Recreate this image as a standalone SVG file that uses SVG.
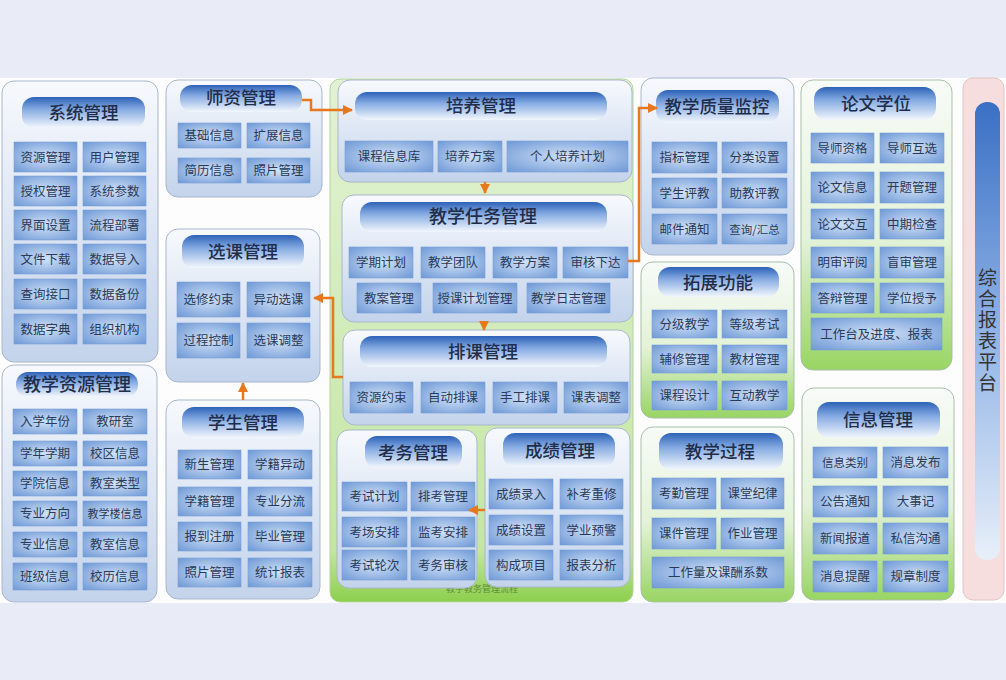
<svg xmlns="http://www.w3.org/2000/svg" width="1006" height="680" viewBox="0 0 1006 680">
<defs>
<linearGradient id="gPanel" x1="0" y1="0" x2="0" y2="1"><stop offset="0" stop-color="#f7f9fd"/><stop offset="1" stop-color="#c3d3eb"/></linearGradient>
<linearGradient id="gPanelG" x1="0" y1="0" x2="0" y2="1"><stop offset="0" stop-color="#f8fbf8"/><stop offset="0.55" stop-color="#e3f2d8"/><stop offset="1" stop-color="#98d562"/></linearGradient>
<linearGradient id="gMid" x1="0" y1="0" x2="0" y2="1"><stop offset="0" stop-color="#e2f1d4"/><stop offset="0.9" stop-color="#c4e6a2"/><stop offset="1" stop-color="#8ccf4c"/></linearGradient>
<linearGradient id="gHead" x1="0" y1="0" x2="0" y2="1"><stop offset="0" stop-color="#2d62b8"/><stop offset="0.4" stop-color="#86abe2"/><stop offset="1" stop-color="#f3f7fd"/></linearGradient>
<radialGradient id="gItem" cx="0.5" cy="0.5" r="0.7"><stop offset="0" stop-color="#d2e2f7"/><stop offset="1" stop-color="#6d98d6"/></radialGradient>
<linearGradient id="gBar" x1="0" y1="0" x2="0" y2="1"><stop offset="0" stop-color="#3a6fc4"/><stop offset="0.5" stop-color="#8fb3e6"/><stop offset="1" stop-color="#e8eff9"/></linearGradient>
<marker id="arr" markerUnits="userSpaceOnUse" markerWidth="10" markerHeight="10" refX="9" refY="5" orient="auto"><path d="M0,0 L10,5 L0,10 z" fill="#e8781e"/></marker>
</defs>
<style>
.p{fill:url(#gPanel);stroke:#a9b7cc;stroke-width:1}
.pg{fill:url(#gPanelG);stroke:#a9bfa9;stroke-width:1}
.h{fill:url(#gHead)}
.i{fill:url(#gItem);stroke:#7a9fd6;stroke-width:0.6}
.tt{font-family:"Noto Sans CJK SC","Noto Sans",sans-serif;font-size:17.5px;fill:#1f2d4a;text-anchor:middle;font-weight:500}
.t{font-family:"Noto Sans CJK SC","Noto Sans",sans-serif;font-size:12.5px;fill:#2a3a58;text-anchor:middle}
.c{fill:none;stroke:#e8781e;stroke-width:2.5}
</style>
<rect width="1006" height="680" fill="#e9ebf7"/>
<rect x="0" y="78" width="1006" height="525" fill="#fdfdfe"/>

<g id="xitong">
<rect class="p" x="2" y="81" width="156" height="281" rx="12"/>
<rect class="h" x="22" y="97" width="123" height="31" rx="12"/>
<text class="tt" x="83.5" y="119">系统管理</text>
<rect class="i" x="14" y="142" width="63" height="30"/><text class="t" x="45.5" y="161.5">资源管理</text>
<rect class="i" x="83" y="142" width="63" height="30"/><text class="t" x="114.5" y="161.5">用户管理</text>
<rect class="i" x="14" y="176" width="63" height="30"/><text class="t" x="45.5" y="195.5">授权管理</text>
<rect class="i" x="83" y="176" width="63" height="30"/><text class="t" x="114.5" y="195.5">系统参数</text>
<rect class="i" x="14" y="210" width="63" height="30"/><text class="t" x="45.5" y="229.5">界面设置</text>
<rect class="i" x="83" y="210" width="63" height="30"/><text class="t" x="114.5" y="229.5">流程部署</text>
<rect class="i" x="14" y="244" width="63" height="30"/><text class="t" x="45.5" y="263.5">文件下载</text>
<rect class="i" x="83" y="244" width="63" height="30"/><text class="t" x="114.5" y="263.5">数据导入</text>
<rect class="i" x="14" y="279" width="63" height="30"/><text class="t" x="45.5" y="298.5">查询接口</text>
<rect class="i" x="83" y="279" width="63" height="30"/><text class="t" x="114.5" y="298.5">数据备份</text>
<rect class="i" x="14" y="314" width="63" height="30"/><text class="t" x="45.5" y="333.5">数据字典</text>
<rect class="i" x="83" y="314" width="63" height="30"/><text class="t" x="114.5" y="333.5">组织机构</text>
</g>

<g id="shizi">
<rect class="p" x="166" y="80" width="156" height="117" rx="12"/>
<rect class="h" x="180" y="85" width="122" height="27" rx="12"/>
<text class="tt" x="241" y="104">师资管理</text>
<rect class="i" x="178" y="123" width="63" height="25"/><text class="t" x="209.5" y="140">基础信息</text>
<rect class="i" x="247" y="123" width="63" height="25"/><text class="t" x="278.5" y="140">扩展信息</text>
<rect class="i" x="178" y="158" width="63" height="25"/><text class="t" x="209.5" y="175">简历信息</text>
<rect class="i" x="247" y="158" width="63" height="25"/><text class="t" x="278.5" y="175">照片管理</text>
</g>

<g id="xuanke">
<rect class="p" x="166" y="229" width="154" height="153" rx="12"/>
<rect class="h" x="182" y="235" width="122" height="33" rx="12"/>
<text class="tt" x="243" y="258">选课管理</text>
<rect class="i" x="177" y="282" width="63" height="35"/><text class="t" x="208.5" y="304">选修约束</text>
<rect class="i" x="247" y="282" width="63" height="35"/><text class="t" x="278.5" y="304">异动选课</text>
<rect class="i" x="177" y="323" width="63" height="35"/><text class="t" x="208.5" y="345">过程控制</text>
<rect class="i" x="247" y="323" width="63" height="35"/><text class="t" x="278.5" y="345">选课调整</text>
</g>

<g id="jiaoxueziyuan">
<rect class="p" x="2" y="365" width="155" height="237" rx="12"/>
<rect class="h" x="16" y="372" width="122" height="25" rx="12"/>
<text class="tt" x="77" y="391" style="font-size:18px">教学资源管理</text>
<rect class="i" x="13" y="409" width="64" height="25"/><text class="t" x="45" y="426">入学年份</text>
<rect class="i" x="83" y="409" width="64" height="25"/><text class="t" x="115" y="426">教研室</text>
<rect class="i" x="13" y="441" width="64" height="25"/><text class="t" x="45" y="458">学年学期</text>
<rect class="i" x="83" y="441" width="64" height="25"/><text class="t" x="115" y="458">校区信息</text>
<rect class="i" x="13" y="471" width="64" height="25"/><text class="t" x="45" y="488">学院信息</text>
<rect class="i" x="83" y="471" width="64" height="25"/><text class="t" x="115" y="488">教室类型</text>
<rect class="i" x="13" y="501" width="64" height="25"/><text class="t" x="45" y="518">专业方向</text>
<rect class="i" x="83" y="501" width="64" height="25"/><text class="t" x="115" y="518" style="font-size:11px">教学楼信息</text>
<rect class="i" x="13" y="532" width="64" height="25"/><text class="t" x="45" y="549">专业信息</text>
<rect class="i" x="83" y="532" width="64" height="25"/><text class="t" x="115" y="549">教室信息</text>
<rect class="i" x="13" y="563" width="64" height="27"/><text class="t" x="45" y="581">班级信息</text>
<rect class="i" x="83" y="563" width="64" height="27"/><text class="t" x="115" y="581">校历信息</text>
</g>

<g id="xuesheng">
<rect class="p" x="166" y="400" width="154" height="199" rx="12"/>
<rect class="h" x="182" y="407" width="122" height="31" rx="12"/>
<text class="tt" x="243" y="429">学生管理</text>
<rect class="i" x="178" y="450" width="63" height="29"/><text class="t" x="209.5" y="469">新生管理</text>
<rect class="i" x="248" y="450" width="64" height="29"/><text class="t" x="280" y="469">学籍异动</text>
<rect class="i" x="178" y="487" width="63" height="29"/><text class="t" x="209.5" y="506">学籍管理</text>
<rect class="i" x="248" y="487" width="64" height="29"/><text class="t" x="280" y="506">专业分流</text>
<rect class="i" x="178" y="522" width="63" height="29"/><text class="t" x="209.5" y="541">报到注册</text>
<rect class="i" x="248" y="522" width="64" height="29"/><text class="t" x="280" y="541">毕业管理</text>
<rect class="i" x="178" y="558" width="63" height="29"/><text class="t" x="209.5" y="577">照片管理</text>
<rect class="i" x="248" y="558" width="64" height="29"/><text class="t" x="280" y="577">统计报表</text>
</g>

<g id="middle">
<rect x="330" y="79" width="303" height="523" rx="10" fill="url(#gMid)" stroke="#b5d49a" stroke-width="1"/>
<text x="482" y="592" style="font-family:'Noto Sans CJK SC',sans-serif;font-size:9px;fill:#3a5a20;opacity:0.6;text-anchor:middle">教学教务管理流程</text>
</g>

<g id="peiyang">
<rect class="p" x="338" y="80" width="294" height="102" rx="12"/>
<rect class="h" x="355" y="92" width="252" height="28" rx="12"/>
<text class="tt" x="481" y="112">培养管理</text>
<rect class="i" x="345" y="141" width="88" height="31"/><text class="t" x="389" y="161">课程信息库</text>
<rect class="i" x="438" y="141" width="64" height="31"/><text class="t" x="470" y="161">培养方案</text>
<rect class="i" x="507" y="141" width="121" height="31"/><text class="t" x="567.5" y="161">个人培养计划</text>
</g>

<g id="jiaoxuerenwu">
<rect class="p" x="342" y="195" width="291" height="127" rx="12"/>
<rect class="h" x="360" y="202" width="247" height="30" rx="12"/>
<text class="tt" x="483" y="223" style="font-size:18px">教学任务管理</text>
<rect class="i" x="349" y="247" width="64" height="31"/><text class="t" x="381" y="267">学期计划</text>
<rect class="i" x="421" y="247" width="64" height="31"/><text class="t" x="453" y="267">教学团队</text>
<rect class="i" x="493" y="247" width="64" height="31"/><text class="t" x="525" y="267">教学方案</text>
<rect class="i" x="563" y="247" width="65" height="31"/><text class="t" x="595.5" y="267">审核下达</text>
<rect class="i" x="357" y="283" width="64" height="30"/><text class="t" x="389" y="302.5">教案管理</text>
<rect class="i" x="433" y="283" width="84" height="30"/><text class="t" x="475" y="302.5">授课计划管理</text>
<rect class="i" x="527" y="283" width="83" height="30"/><text class="t" x="568.5" y="302.5">教学日志管理</text>
</g>

<g id="paike">
<rect class="p" x="343" y="330" width="287" height="95" rx="12"/>
<rect class="h" x="360" y="336" width="247" height="31" rx="12"/>
<text class="tt" x="483" y="358">排课管理</text>
<rect class="i" x="350" y="382" width="63" height="31"/><text class="t" x="381.5" y="402">资源约束</text>
<rect class="i" x="421" y="382" width="64" height="31"/><text class="t" x="453" y="402">自动排课</text>
<rect class="i" x="493" y="382" width="64" height="31"/><text class="t" x="525" y="402">手工排课</text>
<rect class="i" x="564" y="382" width="64" height="31"/><text class="t" x="596" y="402">课表调整</text>
</g>

<g id="kaowu">
<rect class="p" x="337" y="430" width="140" height="158" rx="12"/>
<rect class="h" x="365" y="436" width="97" height="32" rx="12"/>
<text class="tt" x="413" y="459">考务管理</text>
<rect class="i" x="342" y="482" width="65" height="29"/><text class="t" x="374.5" y="501">考试计划</text>
<rect class="i" x="411" y="482" width="64" height="29"/><text class="t" x="443" y="501">排考管理</text>
<rect class="i" x="342" y="517" width="65" height="30"/><text class="t" x="374.5" y="536.5">考场安排</text>
<rect class="i" x="411" y="517" width="64" height="30"/><text class="t" x="443" y="536.5">监考安排</text>
<rect class="i" x="342" y="550" width="65" height="30"/><text class="t" x="374.5" y="569.5">考试轮次</text>
<rect class="i" x="411" y="550" width="64" height="30"/><text class="t" x="443" y="569.5">考务审核</text>
</g>

<g id="chengji">
<rect class="p" x="485" y="428" width="145" height="159" rx="12"/>
<rect class="h" x="503" y="433" width="112" height="34" rx="12"/>
<text class="tt" x="560" y="457">成绩管理</text>
<rect class="i" x="489" y="479" width="64" height="30"/><text class="t" x="521" y="498.5">成绩录入</text>
<rect class="i" x="560" y="479" width="63" height="30"/><text class="t" x="591.5" y="498.5">补考重修</text>
<rect class="i" x="489" y="515" width="64" height="30"/><text class="t" x="521" y="534.5">成绩设置</text>
<rect class="i" x="560" y="515" width="63" height="30"/><text class="t" x="591.5" y="534.5">学业预警</text>
<rect class="i" x="489" y="550" width="64" height="30"/><text class="t" x="521" y="569.5">构成项目</text>
<rect class="i" x="560" y="550" width="63" height="30"/><text class="t" x="591.5" y="569.5">报表分析</text>
</g>

<g id="zhiliang">
<rect class="p" x="641" y="78" width="153" height="177" rx="12"/>
<rect class="h" x="656" y="90" width="123" height="33" rx="12"/>
<text class="tt" x="717" y="113">教学质量监控</text>
<rect class="i" x="652" y="142" width="65" height="31"/><text class="t" x="684.5" y="162">指标管理</text>
<rect class="i" x="722" y="142" width="65" height="31"/><text class="t" x="754.5" y="162">分类设置</text>
<rect class="i" x="652" y="178" width="65" height="30"/><text class="t" x="684.5" y="197.5">学生评教</text>
<rect class="i" x="722" y="178" width="65" height="30"/><text class="t" x="754.5" y="197.5">助教评教</text>
<rect class="i" x="652" y="214" width="65" height="30"/><text class="t" x="684.5" y="233.5">邮件通知</text>
<rect class="i" x="722" y="214" width="65" height="30"/><text class="t" x="754.5" y="233.5" style="font-size:11.5px">查询/汇总</text>
</g>

<g id="tuozhan">
<rect class="pg" x="641" y="262" width="153" height="156" rx="12"/>
<rect class="h" x="658" y="267" width="121" height="30" rx="12"/>
<text class="tt" x="718" y="289">拓展功能</text>
<rect class="i" x="652" y="310" width="65" height="28"/><text class="t" x="684.5" y="328.5">分级教学</text>
<rect class="i" x="722" y="310" width="65" height="28"/><text class="t" x="754.5" y="328.5">等级考试</text>
<rect class="i" x="652" y="345" width="65" height="28"/><text class="t" x="684.5" y="363.5">辅修管理</text>
<rect class="i" x="722" y="345" width="65" height="28"/><text class="t" x="754.5" y="363.5">教材管理</text>
<rect class="i" x="652" y="381" width="65" height="29"/><text class="t" x="684.5" y="400">课程设计</text>
<rect class="i" x="722" y="381" width="65" height="29"/><text class="t" x="754.5" y="400">互动教学</text>
</g>

<g id="guocheng">
<rect class="pg" x="641" y="427" width="153" height="175" rx="12"/>
<rect class="h" x="659" y="433" width="124" height="37" rx="12"/>
<text class="tt" x="720" y="458">教学过程</text>
<rect class="i" x="652" y="478" width="64" height="31"/><text class="t" x="684" y="498">考勤管理</text>
<rect class="i" x="721" y="478" width="63" height="31"/><text class="t" x="752.5" y="498">课堂纪律</text>
<rect class="i" x="652" y="518" width="64" height="31"/><text class="t" x="684" y="538">课件管理</text>
<rect class="i" x="721" y="518" width="63" height="31"/><text class="t" x="752.5" y="538">作业管理</text>
<rect class="i" x="652" y="557" width="132" height="31"/><text class="t" x="718" y="577">工作量及课酬系数</text>
</g>

<g id="lunwen">
<rect class="pg" x="801" y="80" width="151" height="290" rx="12"/>
<rect class="h" x="814" y="87" width="122" height="33" rx="12"/>
<text class="tt" x="876" y="110">论文学位</text>
<rect class="i" x="811" y="133" width="63" height="30"/><text class="t" x="842.5" y="152.5">导师资格</text>
<rect class="i" x="880" y="133" width="64" height="30"/><text class="t" x="912" y="152.5">导师互选</text>
<rect class="i" x="811" y="172" width="63" height="31"/><text class="t" x="842.5" y="192">论文信息</text>
<rect class="i" x="880" y="172" width="64" height="31"/><text class="t" x="912" y="192">开题管理</text>
<rect class="i" x="811" y="209" width="63" height="30"/><text class="t" x="842.5" y="228.5">论文交互</text>
<rect class="i" x="880" y="209" width="64" height="30"/><text class="t" x="912" y="228.5">中期检查</text>
<rect class="i" x="811" y="247" width="63" height="31"/><text class="t" x="842.5" y="267">明审评阅</text>
<rect class="i" x="880" y="247" width="64" height="31"/><text class="t" x="912" y="267">盲审管理</text>
<rect class="i" x="811" y="283" width="63" height="30"/><text class="t" x="842.5" y="302.5">答辩管理</text>
<rect class="i" x="880" y="283" width="64" height="30"/><text class="t" x="912" y="302.5">学位授予</text>
<rect class="i" x="811" y="318" width="131" height="32"/><text class="t" x="876.5" y="338.5">工作台及进度、报表</text>
</g>

<g id="xinxi">
<rect class="pg" x="802" y="388" width="152" height="212" rx="12"/>
<rect class="h" x="817" y="402" width="123" height="36" rx="12"/>
<text class="tt" x="878" y="426">信息管理</text>
<rect class="i" x="813" y="447" width="64" height="31"/><text class="t" x="845" y="467" style="font-size:11.5px">信息类别</text>
<rect class="i" x="883" y="447" width="65" height="31"/><text class="t" x="915.5" y="467">消息发布</text>
<rect class="i" x="813" y="486" width="64" height="31"/><text class="t" x="845" y="506">公告通知</text>
<rect class="i" x="883" y="486" width="65" height="31"/><text class="t" x="915.5" y="506">大事记</text>
<rect class="i" x="813" y="523" width="64" height="31"/><text class="t" x="845" y="543">新闻报道</text>
<rect class="i" x="883" y="523" width="65" height="31"/><text class="t" x="915.5" y="543">私信沟通</text>
<rect class="i" x="813" y="561" width="64" height="31"/><text class="t" x="845" y="581">消息提醒</text>
<rect class="i" x="883" y="561" width="65" height="31"/><text class="t" x="915.5" y="581">规章制度</text>
</g>

<g id="baobiao">
<rect x="963" y="78" width="41" height="522" rx="10" fill="#f7dede" stroke="#e2c4c4" stroke-width="1"/>
<rect x="975" y="102" width="25" height="458" rx="12" fill="url(#gBar)"/>
<text x="987.5" y="331" style="font-family:'Noto Sans CJK SC',sans-serif;font-size:19px;fill:#333;text-anchor:middle;writing-mode:vertical-rl;letter-spacing:2px">综合报表平台</text>
</g>

<g id="connectors">
<path class="c" d="M302,100 H311 V110 H352" marker-end="url(#arr)"/>
<path class="c" d="M485,182 V193" marker-end="url(#arr)"/>
<path class="c" d="M484,322 V330" marker-end="url(#arr)"/>
<path class="c" d="M628,261 H639 V108 H657" marker-end="url(#arr)"/>
<path class="c" d="M343,377 H333 V298 H314" marker-end="url(#arr)"/>
<path class="c" d="M243,400 V383" marker-end="url(#arr)"/>
<path class="c" d="M485,510 H469" marker-end="url(#arr)"/>
</g>
</svg>
